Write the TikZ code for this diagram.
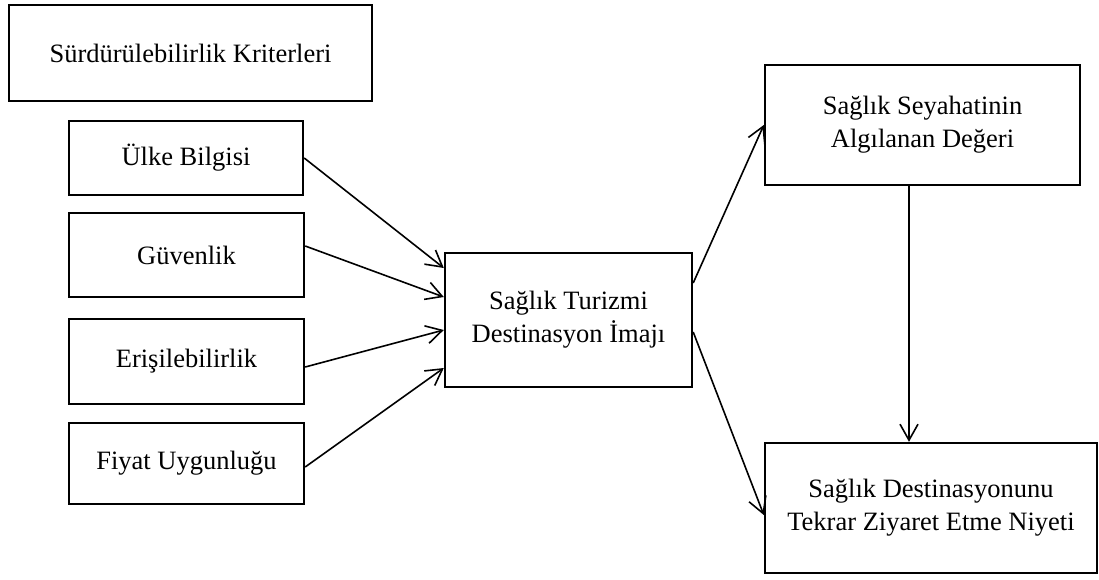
\documentclass[tikz,border=0pt]{standalone}
\usepackage{fontspec}
\setmainfont{Liberation Serif}
\usetikzlibrary{arrows.meta,calc}
\begin{document}
\begin{tikzpicture}[x=1pt,y=-1pt,
  box/.style={draw=black,line width=2.4pt,rectangle,inner sep=0pt,align=center,
    font=\fontsize{26.5}{33}\selectfont,text=black},
  conn/.style={draw=black,line width=1.6pt,-{Straight Barb[length=16pt,width=18pt,line width=1.6pt]}}]
\useasboundingbox[fill=white] (0,0) rectangle (1099,579);
\node[box,minimum width=363pt,minimum height=96pt] (sur) at (190.5,53) {Sürdürülebilirlik Kriterleri};
\node[box,minimum width=234pt,minimum height=74pt] (ulke) at (186,158) {\raisebox{-4pt}{Ülke Bilgisi}};
\node[box,minimum width=235pt,minimum height=84pt] (guv) at (186.5,255) {Güvenlik};
\node[box,minimum width=235pt,minimum height=85pt] (eris) at (186.5,361.5) {Erişilebilirlik};
\node[box,minimum width=235pt,minimum height=81pt] (fiyat) at (186.5,463.5) {Fiyat Uygunluğu};
\node[box,minimum width=247pt,minimum height=134pt] (cen) at (568.5,320) {Sağlık Turizmi\\Destinasyon İmajı};
\node[box,minimum width=315pt,minimum height=120pt] (algi) at (922.5,125) {Sağlık Seyahatinin\\Algılanan Değeri};
\node[box,minimum width=332pt,minimum height=130pt] (niyet) at (931,508) {Sağlık Destinasyonunu\\Tekrar Ziyaret Etme Niyeti};
\draw[conn] (ulke.east) -- ($(cen.west)+(0,-52)$);
\draw[conn] ($(guv.east)+(0,-9)$) -- ($(cen.west)+(0,-23)$);
\draw[conn] ($(eris.east)+(0,5.5)$) -- ($(cen.west)+(0,10)$);
\draw[conn] ($(fiyat.east)+(0,3.5)$) -- ($(cen.west)+(0,48)$);
\draw[conn] ($(cen.east)+(0,-37)$) -- (algi.west);
\draw[conn] ($(cen.east)+(0,12)$) -- ($(niyet.west)+(0,7)$);
\draw[conn] ($(algi.south)+(-13.5,0)$) -- ($(niyet.north)+(-22,0)$);
\end{tikzpicture}
\end{document}
